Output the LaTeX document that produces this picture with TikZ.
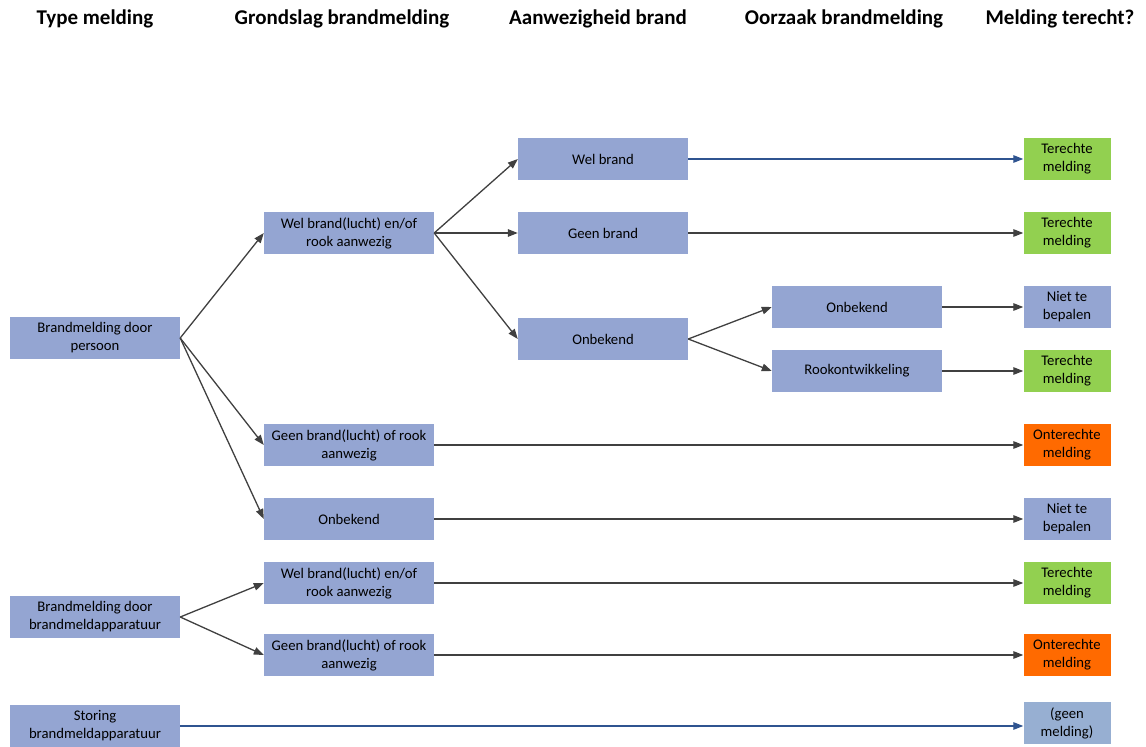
\documentclass[tikz,border=0pt]{standalone}
\usepackage{fontspec}
\setmainfont{Carlito}
\usetikzlibrary{arrows.meta,positioning}
\usepackage{xcolor}

\definecolor{boxblue}{HTML}{94A5D2}
\definecolor{boxpale}{HTML}{97AFD2}
\definecolor{boxgreen}{HTML}{92D050}
\definecolor{boxorange}{HTML}{FF6A00}
\definecolor{linegray}{HTML}{404040}
\definecolor{lineblue}{HTML}{2F5490}

\begin{document}
\begin{tikzpicture}[x=1pt,y=-1pt]
    \tikzstyle{block} = [rectangle, fill=boxblue, minimum width=170pt,
               minimum height=42pt, inner sep=1pt, align=center,
               font=\fontsize{14.7}{18}\selectfont]
    \tikzstyle{result} = [block, minimum width=87pt]
    \tikzstyle{header} = [font=\fontsize{21}{25}\selectfont\bfseries]
    \tikzstyle{line} = [draw, linegray, line width=1.3pt,
               -{Triangle[length=10pt,width=7.5pt]}]
    \tikzstyle{bline} = [line, lineblue]

    \useasboundingbox (0,0) rectangle (1146,747);

    % Column headers
    \node[header] (h1) at (95,19) {Type melding};
    \node[header] (h2) at (342,19) {Grondslag brandmelding};
    \node[header] (h3) at (598,19) {Aanwezigheid brand};
    \node[header] (h4) at (844,19) {Oorzaak brandmelding};
    \node[header] (h5) at (1060,19) {Melding terecht?};

    % Type melding
    \node[block] (persoon) at (95,338) {Brandmelding door\\persoon};
    \node[block] (apparaat) at (95,617) {Brandmelding door\\brandmeldapparatuur};
    \node[block] (storing) at (95,726) {Storing\\brandmeldapparatuur};

    % Grondslag brandmelding
    \node[block] (welrook) at (349,233) {Wel brand(lucht) en/of\\rook aanwezig};
    \node[block] (geenrook) at (349,445) {Geen brand(lucht) of rook\\aanwezig};
    \node[block] (onbekend) at (349,519) {Onbekend};
    \node[block] (welrookb) at (349,583) {Wel brand(lucht) en/of\\rook aanwezig};
    \node[block] (geenrookb) at (349,655) {Geen brand(lucht) of rook\\aanwezig};

    % Aanwezigheid brand
    \node[block] (welbrand) at (603,159) {Wel brand};
    \node[block] (geenbrand) at (603,233) {Geen brand};
    \node[block] (onbekendbrand) at (603,339) {Onbekend};

    % Oorzaak brandmelding
    \node[block] (onbekendoorz) at (857,307) {Onbekend};
    \node[block] (rook) at (857,371) {Rookontwikkeling};

    % Melding terecht?
    \node[result, fill=boxgreen] (r1) at (1067,159) {Terechte\\melding};
    \node[result, fill=boxgreen] (r2) at (1067,233) {Terechte\\melding};
    \node[result] (r3) at (1067,307) {Niet te\\bepalen};
    \node[result, fill=boxgreen] (r4) at (1067,371) {Terechte\\melding};
    \node[result, fill=boxorange] (r5) at (1067,445) {Onterechte\\melding};
    \node[result] (r6) at (1067,519) {Niet te\\bepalen};
    \node[result, fill=boxgreen] (r7) at (1067,583) {Terechte\\melding};
    \node[result, fill=boxorange] (r8) at (1067,655) {Onterechte\\melding};
    \node[result, fill=boxpale] (r9) at (1067,723) {(geen\\melding)};

    % Connectors
    \draw[line] (persoon.east) -- (welrook.west);
    \draw[line] (persoon.east) -- (geenrook.west);
    \draw[line] (persoon.east) -- (onbekend.west);
    \draw[line] (apparaat.east) -- (welrookb.west);
    \draw[line] (apparaat.east) -- (geenrookb.west);
    \draw[bline] (storing.east) -- (storing.east -| r9.west);

    \draw[line] (welrook.east) -- (welbrand.west);
    \draw[line] (welrook.east) -- (geenbrand.west);
    \draw[line] (welrook.east) -- (onbekendbrand.west);
    \draw[line] (onbekendbrand.east) -- (onbekendoorz.west);
    \draw[line] (onbekendbrand.east) -- (rook.west);

    \draw[bline] (welbrand.east) -- (r1.west);
    \draw[line] (geenbrand.east) -- (r2.west);
    \draw[line] (onbekendoorz.east) -- (r3.west);
    \draw[line] (rook.east) -- (r4.west);
    \draw[line] (geenrook.east) -- (r5.west);
    \draw[line] (onbekend.east) -- (r6.west);
    \draw[line] (welrookb.east) -- (r7.west);
    \draw[line] (geenrookb.east) -- (r8.west);

\end{tikzpicture}
\end{document}
